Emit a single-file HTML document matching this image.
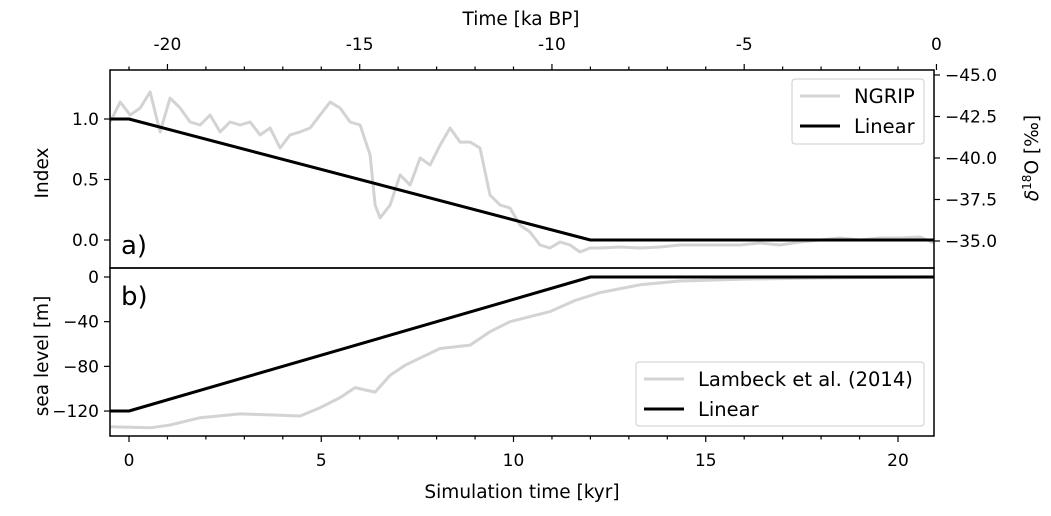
<!DOCTYPE html>
<html><head><meta charset="utf-8"><style>
body{margin:0;background:#fff}
svg text{font-family:"DejaVu Sans","Liberation Sans",sans-serif;fill:#000}
</style></head><body>
<svg id="chart" width="1051" height="511" viewBox="0 0 1051 511">
<g id="g"></g>
</svg>
<script>
const ngripT=[-0.49,-0.23,0.03,0.29,0.55,0.81,1.07,1.33,1.59,1.85,2.11,2.37,2.63,2.89,3.15,3.41,3.67,3.93,4.19,4.45,4.71,4.97,5.23,5.49,5.75,6.01,6.27,6.40,6.53,6.79,7.05,7.31,7.57,7.83,8.09,8.35,8.61,8.87,9.13,9.39,9.65,9.91,10.17,10.43,10.69,10.95,11.21,11.47,11.73,11.99,12.25,12.77,13.29,13.81,14.33,14.85,15.37,15.89,16.41,16.93,17.45,17.97,18.49,19.01,19.53,20.05,20.57,20.94];
const ngripD=[-42.17,-43.37,-42.59,-43.01,-43.98,-41.57,-43.61,-43.01,-42.17,-41.99,-42.59,-41.57,-42.17,-41.99,-42.17,-41.39,-41.81,-40.60,-41.39,-41.57,-41.81,-42.59,-43.37,-43.01,-42.17,-41.99,-40.18,-37.17,-36.39,-37.17,-38.98,-38.37,-40.0,-39.58,-40.78,-41.81,-40.96,-40.96,-40.60,-37.77,-37.17,-36.99,-35.96,-35.54,-34.76,-34.58,-34.94,-34.76,-34.34,-34.58,-34.58,-34.64,-34.58,-34.64,-34.76,-34.76,-34.76,-34.76,-34.88,-34.76,-34.94,-35.06,-35.18,-35.06,-35.18,-35.18,-35.24,-34.88];
const seaT=[-0.49,0.55,1.07,1.85,2.89,3.67,4.45,4.97,5.49,5.88,6.40,6.79,7.18,8.09,8.87,9.39,9.91,10.95,11.60,12.25,13.29,14.33,16.15,18.75,20.94];
const seaV=[-134,-135,-132.5,-126,-122.6,-123.5,-124.4,-117,-108,-99,-103,-88,-79,-64,-61,-49,-40,-31,-21,-14,-7,-3.6,-1.8,-0.5,0];
const linT=[-0.5,0,12,21];
const linIdx=[1,1,0,0];
const linSea=[-120,-120,0,0];
const botTicks=[0,5,10,15,20];
const topTicks=[-20,-15,-10,-5,0];
const idxTicks=[0,0.5,1.0];
const d18Ticks=[-45,-42.5,-40,-37.5,-35];
const seaTicks=[0,-40,-80,-120];

const L=110,R=934,T1=70,B1=268,B2=436;
const X=t=>129+(t-0)*38.45;
const Yi=v=>240-(v)*121;
const Yd=v=>75+(v+45)*16.6;
const Ys=v=>277-v*1.117;
const g=document.getElementById('g');
const NS='http://www.w3.org/2000/svg';
function el(tag,attrs,parent){const e=document.createElementNS(NS,tag);for(const k in attrs)e.setAttribute(k,attrs[k]);(parent||g).appendChild(e);return e;}
function txt(s,x,y,anchor,size,extra){const e=el('text',Object.assign({x:x,y:y,'text-anchor':anchor,'font-size':size},extra||{}));e.textContent=s;return e;}
function line(x1,y1,x2,y2,w){return el('line',{x1,y1,x2,y2,stroke:'#000','stroke-width':w||1});}
function path(ts,vs,fx,fy,color,w){let d='';ts.forEach((t,i)=>{d+=(i?'L':'M')+fx(t).toFixed(1)+' '+fy(vs[i]).toFixed(1);});return el('path',{d:d,fill:'none',stroke:color,'stroke-width':w,'stroke-linejoin':'round'});}
const TS=17, AS=18.5;

const defs=el('defs',{});
const c1=el('clipPath',{id:'c1'},defs);el('rect',{x:L,y:T1,width:R-L,height:B1-T1},c1);
const c2=el('clipPath',{id:'c2'},defs);el('rect',{x:L,y:B1,width:R-L,height:B2-B1},c2);

let p=path(ngripT,ngripD,X,Yd,'#d3d3d3',3);p.setAttribute('clip-path','url(#c1)');


p=path(linT,linIdx,X,Yi,'#000',3);p.setAttribute('clip-path','url(#c1)');


p=path(seaT,seaV,X,Ys,'#d3d3d3',3);p.setAttribute('clip-path','url(#c2)');


p=path(linT,linSea,X,Ys,'#000',3);p.setAttribute('clip-path','url(#c2)');



let f=el('rect',{x:L,y:T1,width:R-L,height:B1-T1,fill:'none',stroke:'#000','stroke-width':1.5});


f=el('rect',{x:L,y:B1,width:R-L,height:B2-B1,fill:'none',stroke:'#000','stroke-width':1.5});



for(let k=0;k<=20;k++){const x=X(k);line(x,B2,x,B2+(k%5?3.5:6),1.2);}
botTicks.forEach(v=>{const t=txt(String(v),X(v),466,'middle',TS);

});
for(let k=-21;k<=0;k++){const x=X(k+21);line(x,T1,x,T1-(k%5?3.5:6),1.2);}
topTicks.forEach(v=>{const t=txt(v<0?'-'+(-v):String(v),X(v+21),50,'middle',TS);

});
idxTicks.forEach(v=>{const y=Yi(v);line(L-6,y,L,y,1.2);const t=txt(v.toFixed(1),L-11,y+6,'end',TS);

});
d18Ticks.forEach(v=>{const y=Yd(v);line(R,y,R+6,y,1.2);const t=txt('\u2212'+(-v).toFixed(1),R+11,y+6,'start',TS);

});
seaTicks.forEach(v=>{const y=Ys(v);line(L-6,y,L,y,1.2);const t=txt(v<0?'\u2212'+(-v):String(v),L-11,y+6,'end',TS);

});

let t=txt('Time [ka BP]',521,25,'middle',AS);


t=txt('Simulation time [kyr]',522,498,'middle',AS);


t=txt('Index',48,173,'middle',AS,{transform:'rotate(-90 48 173)'});


t=txt('sea level [m]',48,356,'middle',AS,{transform:'rotate(-90 48 356)'});


t=el('text',{x:1038,y:158,'text-anchor':'middle','font-size':AS,transform:'rotate(-90 1038 158)'});
t.innerHTML='<tspan font-style="italic">δ</tspan><tspan dy="-7" font-size="12">18</tspan><tspan dy="7">O [‰]</tspan>';


t=txt('a)',121,254,'start',26);


t=txt('b)',121,305,'start',26);



function legend(x,y,w,h,items,name){
 const lg=el('g',{});
 
 
 el('rect',{x,y,width:w,height:h,rx:3,fill:'#fff','fill-opacity':0.85,stroke:'#ccc','stroke-width':1},lg);
 items.forEach((it,i)=>{const cy=y+17+i*30;
  el('line',{x1:x+8,y1:cy,x2:x+48,y2:cy,stroke:it[1],'stroke-width':3},lg);
  const tt=el('text',{x:x+62,y:cy+7,'font-size':19.5},lg);tt.textContent=it[0];
  
  });
}
legend(792,79,132,65,[['NGRIP','#d3d3d3'],['Linear','#000']],'legend-panel-a');
legend(636,362,288,64,[['Lambeck et al. (2014)','#d3d3d3'],['Linear','#000']],'legend-panel-b');
</script>
</body></html>
